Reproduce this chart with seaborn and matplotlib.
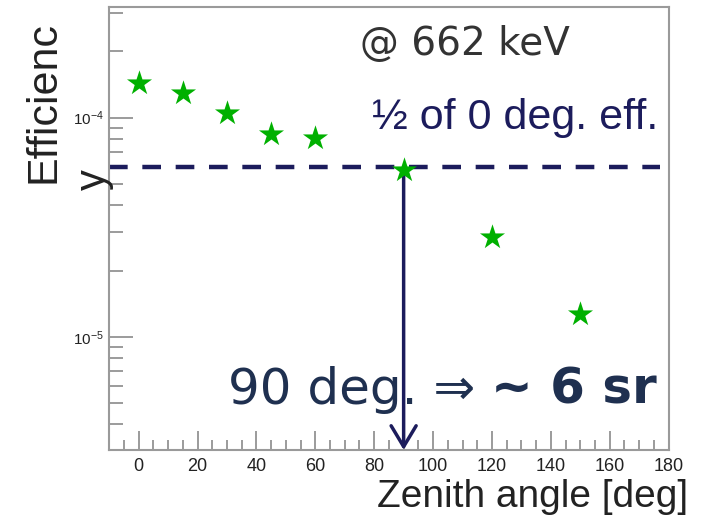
import numpy as np
import pandas as pd
import matplotlib
matplotlib.use("Agg")
import matplotlib.pyplot as plt
import seaborn as sns
from matplotlib.ticker import LogLocator, FixedLocator, NullFormatter

# Data
zenith_deg = [0, 15, 30, 45, 60, 90, 120, 150]
efficiency = [1.43e-4, 1.30e-4, 1.054e-4, 8.45e-5, 8.1e-5, 5.75e-5, 2.85e-5, 1.27e-5]
half_eff_level = 5.98e-5
arrow_x = 90
x_ticks = [0, 20, 40, 60, 80, 100, 120, 140, 160, 180]

df = pd.DataFrame({"zenith": zenith_deg, "eff": efficiency})

sns.set_style("white")
plt.rcParams['font.family'] = ['Liberation Sans', 'DejaVu Sans']

fig = plt.figure(figsize=(7.04, 5.21), dpi=100)
ax = fig.add_axes([0.1553, 0.1363, 0.9496 - 0.1553, 0.9871 - 0.1363])

navy = "#1c1c5c"

ax.set_yscale("log")
ax.set_xlim(-10, 180)
ax.set_ylim(3.05e-6, 3.2e-4)

# dashed half-efficiency line
ax.plot([-10, 177], [half_eff_level, half_eff_level], color=navy, lw=3.2,
        dashes=(4.2, 3.3), zorder=2)

# arrow
ax.annotate("", xy=(arrow_x, 3.05e-6), xytext=(arrow_x, half_eff_level),
            arrowprops=dict(arrowstyle="->,head_length=1.5,head_width=0.9",
                            color=navy, lw=2.5, shrinkA=0, shrinkB=0), zorder=3)

sns.scatterplot(data=df, x="zenith", y="eff", marker="*", s=360,
                color="#00b000", edgecolor="#00b000", linewidth=0, ax=ax, zorder=4)

# spines
for sp in ax.spines.values():
    sp.set_color("#9a9a9a")
    sp.set_linewidth(1.5)

ax.xaxis.set_major_locator(FixedLocator(x_ticks))
ax.xaxis.set_minor_locator(FixedLocator(np.arange(-5, 180, 5)))
ax.yaxis.set_major_locator(LogLocator(base=10, numticks=10))
ax.yaxis.set_minor_locator(LogLocator(base=10, subs=np.arange(2, 10), numticks=20))
ax.yaxis.set_minor_formatter(NullFormatter())

ax.tick_params(axis="x", which="both", bottom=True, top=False)
ax.tick_params(axis="y", which="both", left=True, right=False)
ax.tick_params(axis="x", which="major", direction="in", length=14, width=1.2,
               color="#8a8a8a", labelsize=13, labelcolor="#222222", pad=6)
ax.tick_params(axis="x", which="minor", direction="in", length=7, width=1.2,
               color="#8a8a8a")
ax.tick_params(axis="y", which="major", direction="in", length=17, width=1.2,
               color="#8a8a8a", labelsize=11, labelcolor="#222222", pad=4)
ax.tick_params(axis="y", which="minor", direction="in", length=10, width=1.2,
               color="#8a8a8a")
ax.set_xlabel("")
ax.set_ylabel("")

# axis titles
fig.text(688 / 704, 1 - 497 / 521, "Zenith angle [deg]", ha="right", va="center",
         fontsize=28, color="#222222")
fig.text(44 / 704, 1 - 102 / 521, "Efficienc", ha="center", va="center",
         rotation=90, fontsize=31, color="#222222")
fig.text(94 / 704, 1 - 180 / 521, "y", ha="center", va="center",
         rotation=90, fontsize=30, color="#222222")

# annotations
fig.text(360 / 704, 1 - 44 / 521, "@ 662 keV", ha="left", va="center",
         fontsize=28, color="#333333", family=["DejaVu Sans"])
fig.text(372 / 704, 1 - 118 / 521, "½ of 0 deg. eff.", ha="left", va="center",
         fontsize=31, color=navy)
t1 = fig.text(228 / 704, 1 - 390 / 521, "90 deg. \u21d2 ", ha="left", va="center",
              fontsize=36, color="#1f3050", family=["DejaVu Sans"])
fig.canvas.draw()
bb = t1.get_window_extent()
fig.text(bb.x1 / 704, 1 - 390 / 521, "~ 6 sr", ha="left", va="center",
         fontsize=36, color="#1f3050", fontweight="bold", family=["DejaVu Sans"])

fig.savefig("out.png", dpi=100, facecolor="white")
